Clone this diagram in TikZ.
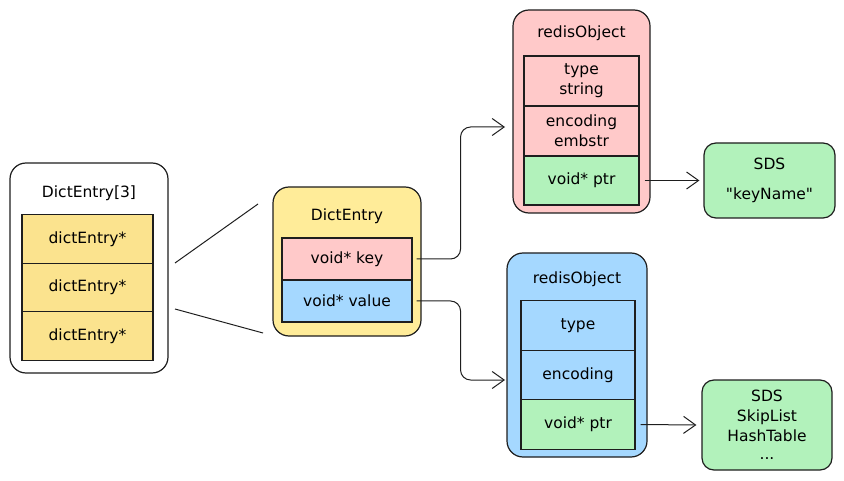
\documentclass[tikz,border=0pt]{standalone}
\usepackage{fontspec}
\setmainfont{DejaVu Sans}[Ligatures=TeXOff]
\usetikzlibrary{arrows.meta,calc,positioning}
\definecolor{yel}{HTML}{FFEC99}
\definecolor{yelcell}{HTML}{FBE38E}
\definecolor{pink}{HTML}{FFC9C9}
\definecolor{sky}{HTML}{A5D8FF}
\definecolor{mint}{HTML}{B2F2BB}
\definecolor{ink}{HTML}{1E1E1E}

\begin{document}
\begin{tikzpicture}[x=1pt,y=-1pt,>={Straight Barb[length=12pt,width=17pt]},
  font=\fontsize{15.5}{20}\selectfont,
  box/.style={draw=ink,line width=1.2pt,rounded corners=16pt,inner sep=0pt},
  cell/.style={draw=ink,line width=1.1pt,inner sep=0pt,align=center},
  link/.style={draw=ink,line width=1pt}]
\useasboundingbox (0,0) rectangle (844,481);
% array of entries
\node[box,fill=white,minimum width=158pt,minimum height=210pt] (arr) at (89,268) {};
\node (arrtitle) at (89,193) {DictEntry[3]};
\foreach \i/\y in {1/239,2/287.5,3/336}
  \node[cell,fill=yelcell,minimum width=131pt,minimum height=48.5pt] (e\i) at (87.5,\y) {dictEntry*};
% single entry
\node[box,fill=yel,minimum width=148pt,minimum height=149pt] (ent) at (347,261.5) {};
\node (enttitle) at (347,216) {DictEntry};
\node[cell,fill=pink,minimum width=130pt,minimum height=42pt] (key) at (347,259) {void* key};
\node[cell,fill=sky,minimum width=130pt,minimum height=42pt] (val) at (347,301) {void* value};
\coordinate (z1) at (175,263); \coordinate (z2) at (258,204);
\coordinate (z3) at (175,309); \coordinate (z4) at (263,333);
\draw[link] (z1)--(z2);
\draw[link] (z3)--(z4);
% key object
\node[box,fill=pink,minimum width=137pt,minimum height=203pt] (kobj) at (581.5,111.5) {};
\node (ktitle) at (581.5,33) {redisObject};
\node[cell,fill=pink,minimum width=115pt,minimum height=50pt] (ktype) at (581.5,81) {type\\string};
\node[cell,fill=pink,minimum width=115pt,minimum height=50pt] (kenc) at (581.5,131) {encoding\\embstr};
\node[cell,fill=mint,minimum width=115pt,minimum height=49pt] (kptr) at (581.5,180.5) {void* ptr};
\node[box,fill=mint,minimum width=131pt,minimum height=75pt,rounded corners=12pt,align=center] (ksds) at (769.5,180.5)
  {SDS\\[10pt]"keyName"};
% value object
\node[box,fill=sky,minimum width=140pt,minimum height=204pt] (vobj) at (577,355) {};
\node (vtitle) at (577,279) {redisObject};
\node[cell,fill=sky,minimum width=114pt,minimum height=49.5pt] (vtype) at (578,325.5) {type};
\node[cell,fill=sky,minimum width=114pt,minimum height=49.5pt] (venc) at (578,375) {encoding};
\node[cell,fill=mint,minimum width=114pt,minimum height=49.5pt] (vptr) at (578,424.5) {void* ptr};
\node[box,fill=mint,minimum width=130pt,minimum height=90pt,rounded corners=12pt,align=center] (vsds) at (767,425)
  {SDS\\SkipList\\HashTable\\[-2pt]...};
% pointers
\coordinate (kin) at (505,127); \coordinate (vin) at (505,380);
\draw[link,->,rounded corners=10pt] ([xshift=4pt]key.east) -- ++(44,0) |- (kin);
\draw[link,->,rounded corners=10pt] ([xshift=4pt]val.east) -- ++(44,0) |- (vin);
\draw[link,->] ([xshift=5pt]kptr.east) -- ([xshift=-4pt]ksds.west);
\draw[link,->] ([xshift=5pt]vptr.east) -- ([xshift=-5pt]vsds.west);
\end{tikzpicture}
\end{document}
